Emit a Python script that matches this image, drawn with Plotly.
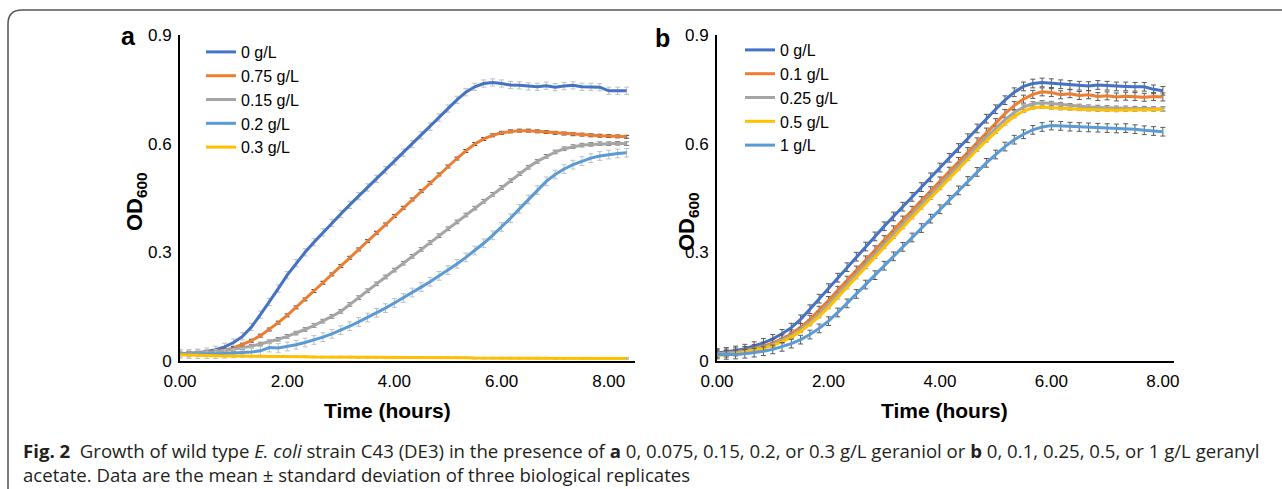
import plotly.graph_objects as go

W, H = 1282, 489

# ---------------- data ----------------
# panel a: time points every 10 min, 0 .. 8.33 h
time_a = [k / 6 for k in range(51)]
labels_a = ["0 g/L", "0.75 g/L", "0.15 g/L", "0.2 g/L", "0.3 g/L"]
od_a_0 = [0.020, 0.021, 0.023, 0.026, 0.031, 0.039, 0.051, 0.068, 0.094, 0.128,
          0.163, 0.200, 0.237, 0.270, 0.300, 0.328, 0.355, 0.381, 0.406, 0.431,
          0.455, 0.479, 0.503, 0.527, 0.551, 0.575, 0.599, 0.623, 0.647, 0.672,
          0.697, 0.721, 0.742, 0.757, 0.766, 0.769, 0.766, 0.762, 0.761, 0.758,
          0.757, 0.760, 0.756, 0.759, 0.761, 0.757, 0.757, 0.756, 0.746, 0.746,
          0.746]
od_a_075 = [0.020, 0.020, 0.021, 0.023, 0.026, 0.030, 0.036, 0.045, 0.056, 0.070,
            0.087, 0.106, 0.126, 0.148, 0.170, 0.193, 0.216, 0.239, 0.262, 0.285,
            0.308, 0.331, 0.354, 0.377, 0.400, 0.423, 0.446, 0.469, 0.492, 0.515,
            0.537, 0.559, 0.580, 0.599, 0.613, 0.623, 0.630, 0.634, 0.636, 0.636,
            0.634, 0.632, 0.630, 0.628, 0.626, 0.625, 0.623, 0.622, 0.621, 0.620,
            0.619]
od_a_015 = [0.020, 0.021, 0.022, 0.023, 0.025, 0.028, 0.032, 0.036, 0.041, 0.047,
            0.053, 0.060, 0.068, 0.077, 0.087, 0.098, 0.110, 0.123, 0.137, 0.156,
            0.175, 0.194, 0.213, 0.232, 0.251, 0.270, 0.289, 0.308, 0.327, 0.346,
            0.365, 0.384, 0.403, 0.422, 0.441, 0.460, 0.479, 0.498, 0.517, 0.535,
            0.551, 0.565, 0.577, 0.586, 0.592, 0.596, 0.598, 0.600, 0.600, 0.601,
            0.600]
od_a_02 = [0.020, 0.019, 0.019, 0.019, 0.019, 0.020, 0.021, 0.023, 0.025, 0.028,
           0.037, 0.036, 0.040, 0.045, 0.051, 0.058, 0.066, 0.075, 0.085, 0.096,
           0.108, 0.120, 0.133, 0.146, 0.160, 0.174, 0.189, 0.204, 0.219, 0.235,
           0.251, 0.268, 0.286, 0.305, 0.325, 0.347, 0.370, 0.394, 0.420, 0.446,
           0.472, 0.496, 0.515, 0.530, 0.542, 0.552, 0.560, 0.566, 0.570, 0.573,
           0.575]
od_a_03 = [0.017, 0.016, 0.016, 0.015, 0.015, 0.014, 0.014, 0.014, 0.013, 0.013,
           0.013, 0.012, 0.012, 0.012, 0.012, 0.011, 0.011, 0.011, 0.011, 0.011,
           0.010, 0.010, 0.010, 0.010, 0.010, 0.010, 0.009, 0.009, 0.009, 0.009,
           0.009, 0.009, 0.009, 0.008, 0.008, 0.008, 0.008, 0.008, 0.008, 0.008,
           0.008, 0.008, 0.007, 0.007, 0.007, 0.007, 0.007, 0.007, 0.007, 0.007,
           0.007]
sd_a = [0.010, 0.004, 0.005, 0.012, 0.002]

# panel b: time points every 10 min, 0 .. 8.0 h
time_b = [k / 6 for k in range(49)]
labels_b = ["0 g/L", "0.1 g/L", "0.25 g/L", "0.5 g/L", "1 g/L"]
od_b_0 = [0.022, 0.025, 0.029, 0.034, 0.041, 0.050, 0.061, 0.075, 0.092, 0.115,
          0.143, 0.172, 0.201, 0.230, 0.259, 0.288, 0.316, 0.344, 0.372, 0.399,
          0.426, 0.453, 0.480, 0.507, 0.534, 0.561, 0.588, 0.615, 0.642, 0.669,
          0.695, 0.720, 0.742, 0.758, 0.766, 0.769, 0.767, 0.764, 0.762, 0.760,
          0.759, 0.762, 0.760, 0.758, 0.758, 0.757, 0.757, 0.750, 0.746]
od_b_01 = [0.020, 0.022, 0.025, 0.029, 0.034, 0.041, 0.050, 0.061, 0.075, 0.093,
           0.115, 0.140, 0.167, 0.195, 0.223, 0.251, 0.279, 0.307, 0.335, 0.362,
           0.389, 0.416, 0.443, 0.470, 0.497, 0.524, 0.551, 0.578, 0.605, 0.632,
           0.658, 0.683, 0.705, 0.723, 0.736, 0.743, 0.741, 0.735, 0.738, 0.733,
           0.735, 0.730, 0.732, 0.729, 0.731, 0.730, 0.728, 0.730, 0.729]
od_b_025 = [0.020, 0.021, 0.023, 0.027, 0.032, 0.038, 0.046, 0.057, 0.070, 0.087,
            0.107, 0.130, 0.156, 0.184, 0.212, 0.240, 0.268, 0.296, 0.324, 0.351,
            0.378, 0.405, 0.432, 0.459, 0.486, 0.513, 0.540, 0.566, 0.592, 0.618,
            0.643, 0.666, 0.686, 0.701, 0.710, 0.713, 0.711, 0.708, 0.705, 0.703,
            0.701, 0.700, 0.699, 0.698, 0.698, 0.697, 0.697, 0.696, 0.696]
od_b_05 = [0.015, 0.017, 0.020, 0.024, 0.029, 0.035, 0.043, 0.053, 0.066, 0.082,
           0.101, 0.123, 0.148, 0.175, 0.203, 0.231, 0.259, 0.287, 0.315, 0.342,
           0.369, 0.396, 0.423, 0.450, 0.477, 0.504, 0.531, 0.557, 0.583, 0.608,
           0.632, 0.655, 0.675, 0.690, 0.699, 0.701, 0.699, 0.697, 0.696, 0.695,
           0.694, 0.693, 0.693, 0.692, 0.693, 0.693, 0.694, 0.694, 0.694]
od_b_1 = [0.018, 0.017, 0.018, 0.020, 0.023, 0.027, 0.032, 0.039, 0.048, 0.059,
          0.073, 0.090, 0.110, 0.134, 0.159, 0.185, 0.211, 0.237, 0.263, 0.289,
          0.315, 0.341, 0.367, 0.393, 0.419, 0.445, 0.471, 0.497, 0.522, 0.547,
          0.570, 0.592, 0.611, 0.626, 0.638, 0.646, 0.650, 0.649, 0.647, 0.646,
          0.645, 0.644, 0.643, 0.642, 0.643, 0.640, 0.637, 0.635, 0.633]
sd_b = [0.012, 0.011, 0.006, 0.004, 0.012]

x_ticks = [0, 2, 4, 6, 8]
y_ticks = [0, 0.3, 0.6, 0.9]
y_ticktext = ["0", "0.3", "0.6", "0.9"]

# ---------------- styles ----------------
colors_a = ["#4472C4", "#ED7D31", "#A5A5A5", "#5B9BD5", "#FFC000"]
colors_b = ["#4472C4", "#ED7D31", "#A5A5A5", "#FFC000", "#5B9BD5"]
errcol_a = ["#BFBFBF", "#404040", "#7F7F7F", "#BFBFBF", "#A0A0A0"]
errcol_b = ["#595959", "#595959", "#7F7F7F", "#A0A0A0", "#595959"]

FONT = "Liberation Sans, Arial, sans-serif"


def px(x):
    return x / W


def py(y):
    return 1 - y / H


fig = go.Figure()

series_a = [od_a_0, od_a_075, od_a_015, od_a_02, od_a_03]
series_b = [od_b_0, od_b_01, od_b_025, od_b_05, od_b_1]

for i, (lab, ys) in enumerate(zip(labels_a, series_a)):
    fig.add_trace(go.Scatter(
        x=time_a, y=ys, name=lab, mode="lines",
        line=dict(color=colors_a[i], width=3),
        error_y=dict(type="constant", value=sd_a[i], color=errcol_a[i],
                     thickness=1, width=2.5),
        xaxis="x", yaxis="y", legend="legend", hoverinfo="skip"))

for i, (lab, ys) in enumerate(zip(labels_b, series_b)):
    fig.add_trace(go.Scatter(
        x=time_b, y=ys, name=lab, mode="lines",
        line=dict(color=colors_b[i], width=3),
        error_y=dict(type="constant", value=sd_b[i], color=errcol_b[i],
                     thickness=1, width=2.5),
        xaxis="x2", yaxis="y2", legend="legend2", hoverinfo="skip"))

ydom = [py(361), py(35)]
axis_common = dict(showgrid=False, zeroline=False, showline=True,
                   linecolor="black", linewidth=2, ticks="", automargin=False,
                   tickfont=dict(family=FONT, size=17, color="black"))

fig.update_layout(
    width=W, height=H,
    margin=dict(l=0, r=0, t=0, b=0, autoexpand=False),
    paper_bgcolor="white", plot_bgcolor="white",
    xaxis=dict(domain=[px(180), px(635)], range=[0, 8.49], tickvals=x_ticks,
               tickformat=".2f", anchor="y", ticklabelstandoff=4, **axis_common),
    yaxis=dict(domain=ydom, range=[0, 0.9], tickvals=y_ticks,
               ticktext=y_ticktext, anchor="x", ticklabelstandoff=3, **axis_common),
    xaxis2=dict(domain=[px(717), px(1174)], range=[0, 8.2], tickvals=x_ticks,
                tickformat=".2f", anchor="y2", ticklabelstandoff=4, **axis_common),
    yaxis2=dict(domain=ydom, range=[0, 0.9], tickvals=y_ticks,
                ticktext=y_ticktext, anchor="x2", ticklabelstandoff=3, **axis_common),
    legend=dict(x=px(201), y=py(35), xanchor="left", yanchor="top",
                bgcolor="rgba(0,0,0,0)",
                font=dict(family=FONT, size=16, color="black")),
    legend2=dict(x=px(740), y=py(33), xanchor="left", yanchor="top",
                 bgcolor="rgba(0,0,0,0)",
                 font=dict(family=FONT, size=16, color="black")),
    showlegend=True,
)

ann = []


def label(x, y, text, size, angle=0, family=FONT, color="black"):
    return dict(x=px(x), y=py(y), text=text, showarrow=False, textangle=angle,
                xref="paper", yref="paper", xanchor="center", yanchor="middle",
                font=dict(family=family, size=size, color=color))


# panel letters
ann.append(label(128, 36, "<b>a</b>", 25))
ann.append(label(662, 38, "<b>b</b>", 25))
# axis titles
for xc in (387, 945):
    ann.append(label(xc, 410, "<b>Time (hours)</b>", 21))
for xc, yc in ((136, 202), (688, 222)):
    ann.append(label(xc, yc, "<b>OD<sub>600</sub></b>", 22, angle=-90))
# caption
CAP = "Open Sans, Noto Sans, sans-serif"
ann.append(dict(
    x=px(21), y=py(462), xanchor="left", yanchor="middle", showarrow=False,
    xref="paper", yref="paper", align="left",
    text=("<b>Fig. 2</b>  Growth of wild type <i>E. coli</i> strain C43 (DE3) in the presence of "
          "<b>a</b> 0, 0.075, 0.15, 0.2, or 0.3 g/L geraniol or <b>b</b> 0, 0.1, 0.25, 0.5, or 1 g/L geranyl"
          "<br>acetate. Data are the mean ± standard deviation of three biological replicates"),
    font=dict(family=CAP, size=18.6, color="#231F20")))
fig.update_layout(annotations=ann)

# rounded frame around the figure
r = 14
path = (f"M {px(8)},{py(520)} L {px(8)},{py(10 + r)} "
        f"Q {px(8)},{py(10)} {px(8 + r)},{py(10)} L {px(1320)},{py(10)}")
fig.add_shape(type="path", path=path, xref="paper", yref="paper",
              line=dict(color="#555555", width=1.5))

fig.write_html("out.html",
               config={"displayModeBar": False},
               post_script="document.body.style.margin='0px';"
                           "document.documentElement.style.overflow='hidden';")
